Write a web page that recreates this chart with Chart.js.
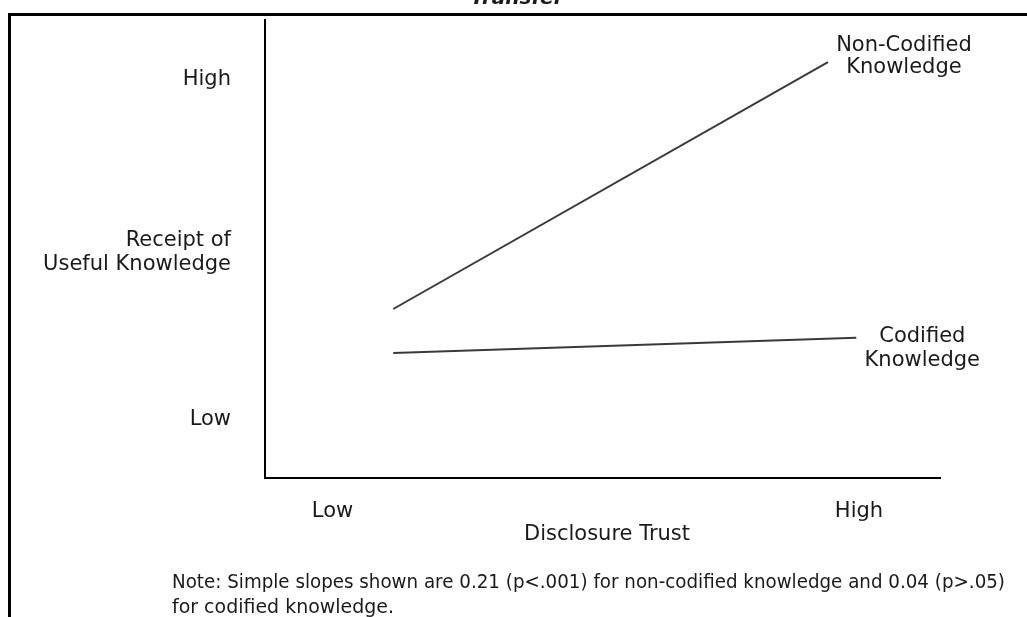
<!DOCTYPE html>
<html>
<head>
<meta charset="utf-8">
<script src="https://cdn.jsdelivr.net/npm/chart.js@4"></script>
<style>
    body { margin: 0; background: #fff; overflow: hidden; }
    .frame {
        position: absolute; left: 8px; top: 13px;
        width: 1100px; height: 700px;
        border: 3px solid #000;
    }
    #wrap { position: absolute; left: 0; top: 0; width: 1027px; height: 617px; }
</style>
</head>
<body>
<div class="frame"></div>
<div id="wrap"><canvas id="slopeChart" width="1027" height="617"></canvas></div>
<script>
// Values (axes run 0..100, only relative positions matter)
const seriesNames = ['Non-Codified Knowledge', 'Codified Knowledge'];
const nonCodifiedX = [19, 83.4];
const nonCodifiedY = [36.9, 90.8];
const codifiedX = [19, 87.6];
const codifiedY = [27.3, 30.6];

const xTickValues = [10, 88];
const xTickLabels = ['Low', 'High'];
const yTickValues = [12.7, 49.3, 86.9];
const yTickLabels = ['Low', ['Receipt of', 'Useful Knowledge'], 'High'];

const chartTitle = 'Transfer';
const xAxisTitle = 'Disclosure Trust';
const noteLines = [
    'Note: Simple slopes shown are 0.21 (p<.001) for non-codified knowledge and 0.04 (p>.05)',
    'for codified knowledge.'
];

const FONT = '"DejaVu Sans", sans-serif';
const TEXT_COLOR = '#1a1a1a';
const LINE_COLOR = '#3a3a3a';

function toPoints(xs, ys) {
    return xs.map((x, i) => ({ x: x, y: ys[i] }));
}

// no extra room for half-labels, the plot box is fixed
function noScalePadding(scale) {
    scale.paddingTop = 0;
    scale.paddingBottom = 0;
    scale.paddingLeft = 0;
    scale.paddingRight = 0;
}

// draws title, x axis title, note and the labels at the end of each line
const textPlugin = {
    id: 'textPlugin',
    afterDraw(chart) {
        const ctx = chart.ctx;
        const area = chart.chartArea;
        ctx.save();
        ctx.fillStyle = TEXT_COLOR;
        ctx.textAlign = 'center';

        // title is mostly cut off by the top edge
        ctx.font = 'italic bold 20px ' + FONT;
        ctx.textBaseline = 'alphabetic';
        ctx.fillText(chartTitle, 517, 4);

        ctx.textBaseline = 'middle';
        ctx.font = '21px ' + FONT;
        ctx.fillText(xAxisTitle, 607, area.bottom + 57, 176);

        // labels next to the end points
        const offsets = [
            { dx: 76, dy: [-17, 5] },
            { dx: 66, dy: [-1, 23] }
        ];
        chart.data.datasets.forEach((ds, i) => {
            const meta = chart.getDatasetMeta(i);
            const last = meta.data[meta.data.length - 1];
            const words = ds.label.split(' ');
            ctx.fillText(words[0], last.x + offsets[i].dx, last.y + offsets[i].dy[0]);
            ctx.fillText(words[1], last.x + offsets[i].dx, last.y + offsets[i].dy[1]);
        });

        ctx.textAlign = 'left';
        ctx.font = '19px ' + FONT;
        ctx.fillText(noteLines[0], 172, 583, 833);
        ctx.fillText(noteLines[1], 172, 608, 222);
        ctx.restore();
    }
};

new Chart(document.getElementById('slopeChart'), {
    type: 'line',
    data: {
        datasets: [
            {
                label: seriesNames[0],
                data: toPoints(nonCodifiedX, nonCodifiedY),
                borderColor: LINE_COLOR,
                borderWidth: 2,
                pointRadius: 0,
                fill: false
            },
            {
                label: seriesNames[1],
                data: toPoints(codifiedX, codifiedY),
                borderColor: LINE_COLOR,
                borderWidth: 2,
                pointRadius: 0,
                fill: false
            }
        ]
    },
    options: {
        responsive: false,
        animation: false,
        layout: { padding: { left: 0, top: 20, right: 87, bottom: 0 } },
        plugins: {
            legend: { display: false },
            tooltip: { enabled: false },
            title: { display: false }
        },
        scales: {
            x: {
                type: 'linear',
                min: 0,
                max: 100,
                grid: { display: false, drawTicks: false },
                border: { display: true, color: '#000', width: 2 },
                afterFit: (scale) => { scale.height = 139; noScalePadding(scale); },
                afterBuildTicks: (scale) => {
                    scale.ticks = xTickValues.map(v => ({ value: v }));
                },
                ticks: {
                    padding: 21,
                    color: TEXT_COLOR,
                    font: { family: FONT, size: 21 },
                    callback: (value) => xTickLabels[xTickValues.indexOf(value)]
                }
            },
            y: {
                type: 'linear',
                min: 0,
                max: 100,
                grid: { display: false, drawTicks: false },
                border: { display: true, color: '#000', width: 2 },
                afterFit: (scale) => { scale.width = 265; noScalePadding(scale); },
                afterBuildTicks: (scale) => {
                    scale.ticks = yTickValues.map(v => ({ value: v }));
                },
                ticks: {
                    padding: 34,
                    crossAlign: 'near',
                    color: TEXT_COLOR,
                    font: { family: FONT, size: 21, lineHeight: 1.15 },
                    callback: (value) => yTickLabels[yTickValues.indexOf(value)]
                }
            }
        }
    },
    plugins: [textPlugin]
});
</script>
</body>
</html>
